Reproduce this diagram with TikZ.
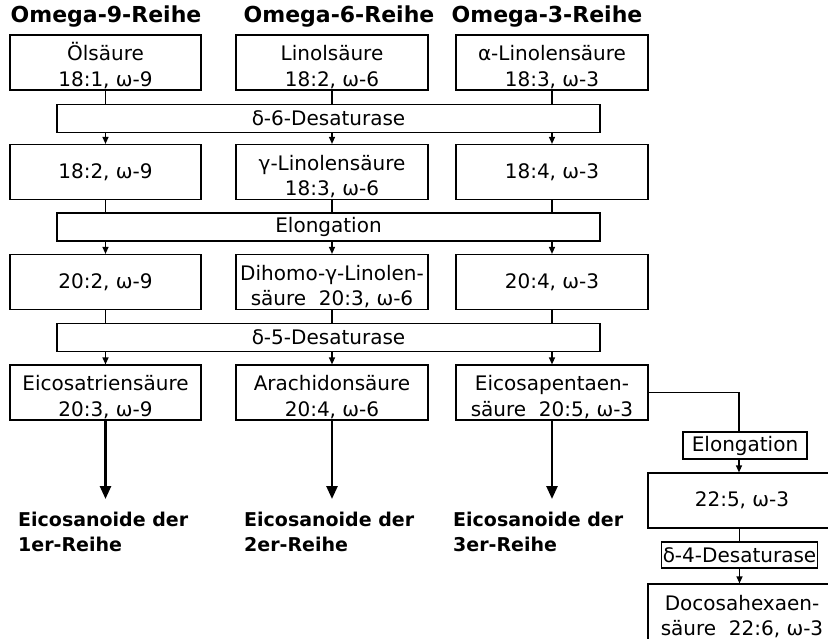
\documentclass[tikz,border=0pt]{standalone}
\usepackage{fontspec}
\setmainfont{DejaVu Sans}
\usetikzlibrary{arrows.meta, positioning}

\newcommand{\toplift}{\rule{0pt}{24pt}}

\begin{document}
\begin{tikzpicture}[
    x=1pt, y=-1pt,
    font=\fontsize{20}{25.5}\selectfont,
    acidbox/.style={rectangle, draw=black, line width=1.2pt, align=center, inner sep=1pt, minimum width=#1, minimum height=55pt},
    acidbox/.default=192pt,
    enzymebox/.style={rectangle, draw=black, line width=1.2pt, inner sep=1pt, minimum width=#1, minimum height=28pt},
    enzymebox/.default=543pt,
    headline/.style={font=\fontsize{22}{26}\selectfont\bfseries},
    outlabel/.style={font=\fontsize{19}{25}\selectfont\bfseries, align=left, anchor=north west, inner sep=0pt},
    plainline/.style={line width=1.2pt},
    thinarr/.style={-{Triangle[width=6pt,length=7pt]}, line width=1.2pt},
    bigarr/.style={-{Triangle[width=11pt,length=13pt]}, line width=2.6pt}
]
    \useasboundingbox (0,0) rectangle (828,639);

    % Series headings
    \node[headline] (h9) at (106,17) {Omega-9-Reihe};
    \node[headline] (h6) at (339,17) {Omega-6-Reihe};
    \node[headline] (h3) at (547,17) {Omega-3-Reihe};

    % Row 1
    \node[acidbox=191pt] (o9a) at (105.5,62.5) {\toplift Ölsäure\\18:1, ω-9};
    \node[acidbox] (o6a) at (332,62.5) {\toplift Linolsäure\\18:2, ω-6};
    \node[acidbox] (o3a) at (552,62.5) {\toplift α-Linolensäure\\18:3, ω-3};

    \node[enzymebox] (d6) at (328.5,118.5) {δ-6-Desaturase};

    % Row 2
    \node[acidbox=191pt] (o9b) at (105.5,172) {18:2, ω-9};
    \node[acidbox] (o6b) at (332,172) {\toplift γ-Linolensäure\\18:3, ω-6};
    \node[acidbox] (o3b) at (552,172) {18:4, ω-3};

    \node[enzymebox] (elo) at (328.5,227) {Elongation};

    % Row 3
    \node[acidbox=191pt] (o9c) at (105.5,282) {20:2, ω-9};
    \node[acidbox] (o6c) at (332,282) {\toplift Dihomo-γ-Linolen-\\säure\ \ 20:3, ω-6};
    \node[acidbox] (o3c) at (552,282) {20:4, ω-3};

    \node[enzymebox] (d5) at (328.5,337.5) {δ-5-Desaturase};

    % Row 4
    \node[acidbox=191pt] (o9d) at (105.5,392.5) {\toplift Eicosatriensäure\\20:3, ω-9};
    \node[acidbox] (o6d) at (332,392.5) {\toplift Arachidonsäure\\20:4, ω-6};
    \node[acidbox] (o3d) at (552,392.5) {\toplift Eicosapentaen-\\säure\ \ 20:5, ω-3};

    % Eicosanoids
    \node[outlabel] (eic1) at (18,512) {Eicosanoide der\\1er-Reihe};
    \node[outlabel] (eic2) at (244,512) {Eicosanoide der\\2er-Reihe};
    \node[outlabel] (eic3) at (453,512) {Eicosanoide der\\3er-Reihe};

    % DHA branch
    \node[enzymebox=124pt, minimum height=27pt] (elo2) at (745,445.5) {Elongation};
    \node[acidbox=188pt] (dpa) at (742,500.5) {22:5, ω-3};
    \node[enzymebox=153pt, minimum height=26pt] (d4) at (739.5,555) {δ-4-Desaturase};
    \node[acidbox=188pt, minimum height=56pt] (dha) at (742,612) {\toplift Docosahexaen-\\säure\ \ 22:6, ω-3};

    % Column flow
    \draw[plainline] (o9a.south) -- (o9a.south |- d6.north);
    \draw[plainline] (o6a.south) -- (o6a.south |- d6.north);
    \draw[plainline] (o3a.south) -- (o3a.south |- d6.north);
    \draw[thinarr] (o9b.north |- d6.south) -- (o9b.north);
    \draw[thinarr] (o6b.north |- d6.south) -- (o6b.north);
    \draw[thinarr] (o3b.north |- d6.south) -- (o3b.north);

    \draw[plainline] (o9b.south) -- (o9b.south |- elo.north);
    \draw[plainline] (o6b.south) -- (o6b.south |- elo.north);
    \draw[plainline] (o3b.south) -- (o3b.south |- elo.north);
    \draw[thinarr] (o9c.north |- elo.south) -- (o9c.north);
    \draw[thinarr] (o6c.north |- elo.south) -- (o6c.north);
    \draw[thinarr] (o3c.north |- elo.south) -- (o3c.north);

    \draw[plainline] (o9c.south) -- (o9c.south |- d5.north);
    \draw[plainline] (o6c.south) -- (o6c.south |- d5.north);
    \draw[plainline] (o3c.south) -- (o3c.south |- d5.north);
    \draw[thinarr] (o9d.north |- d5.south) -- (o9d.north);
    \draw[thinarr] (o6d.north |- d5.south) -- (o6d.north);
    \draw[thinarr] (o3d.north |- d5.south) -- (o3d.north);

    % To eicosanoids
    \draw[bigarr] (o9d.south) -- ([yshift=13pt]o9d.south |- eic1.north);
    \draw[bigarr] (o6d.south) -- ([yshift=13pt]o6d.south |- eic2.north);
    \draw[bigarr] (o3d.south) -- ([yshift=13pt]o3d.south |- eic3.north);

    % Branch to DHA
    \draw[plainline] (o3d.east) -| ([xshift=-6pt]elo2.north);
    \draw[thinarr] ([xshift=-6pt]elo2.south) -- ([xshift=-6pt]elo2.south |- dpa.north);
    \draw[plainline] (d4.north |- dpa.south) -- (d4.north);
    \draw[thinarr] (d4.south) -- (d4.south |- dha.north);
\end{tikzpicture}
\end{document}
